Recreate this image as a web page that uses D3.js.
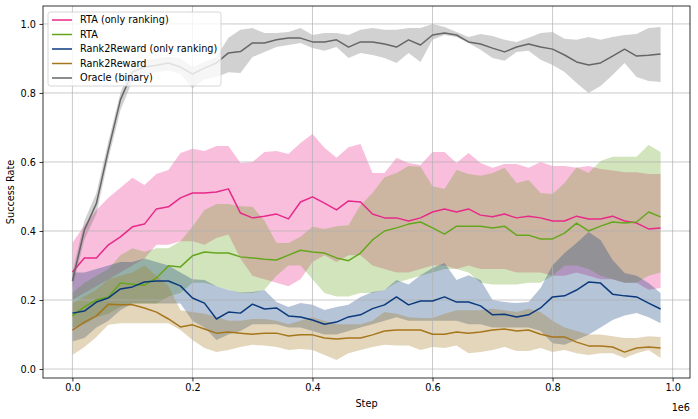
<!DOCTYPE html>
<meta charset="utf-8">
<style>
body { margin: 0; background: #fff; }
svg text { font-family: "DejaVu Sans", sans-serif; font-size: 9.7px; fill: #000; }
</style>
<body>
<script src="https://d3js.org/d3.v7.min.js"></script>
<script>

// x positions (environment steps)
var steps = [0,20000,40000,60000,80000,100000,120000,140000,160000,180000,
  200000,220000,240000,260000,280000,300000,320000,340000,360000,380000,
  400000,420000,440000,460000,480000,500000,520000,540000,560000,580000,
  600000,620000,640000,660000,680000,700000,720000,740000,760000,780000,
  800000,820000,840000,860000,880000,900000,920000,940000,960000,980000];

// RTA (only ranking)
var rtaRankMean = [0.281,0.322,0.322,0.360,0.383,0.412,0.420,0.464,0.470,0.496,
  0.510,0.510,0.513,0.522,0.452,0.438,0.443,0.449,0.435,0.484,
  0.499,0.481,0.461,0.487,0.484,0.449,0.438,0.438,0.429,0.438,
  0.455,0.464,0.455,0.464,0.446,0.441,0.449,0.438,0.443,0.438,
  0.429,0.429,0.443,0.435,0.435,0.443,0.429,0.423,0.406,0.409];
var rtaRankHi = [0.365,0.417,0.461,0.496,0.525,0.554,0.533,0.565,0.577,0.626,
  0.638,0.632,0.646,0.646,0.597,0.600,0.629,0.632,0.623,0.655,
  0.681,0.641,0.612,0.643,0.652,0.568,0.568,0.612,0.597,0.591,
  0.629,0.629,0.597,0.626,0.597,0.583,0.594,0.594,0.583,0.600,
  0.588,0.588,0.583,0.588,0.580,0.575,0.570,0.570,0.565,0.565];
var rtaRankLo = [0.20,0.22,0.24,0.26,0.28,0.30,0.32,0.36,0.36,0.37,
  0.37,0.36,0.38,0.39,0.32,0.27,0.26,0.25,0.24,0.26,
  0.31,0.33,0.31,0.33,0.33,0.30,0.29,0.28,0.28,0.29,
  0.30,0.30,0.29,0.30,0.29,0.29,0.29,0.28,0.28,0.28,
  0.27,0.27,0.28,0.27,0.26,0.26,0.25,0.25,0.23,0.235];

// RTA
var rtaMean = [0.154,0.180,0.200,0.209,0.249,0.246,0.243,0.264,0.299,0.296,
  0.328,0.339,0.336,0.336,0.325,0.322,0.318,0.316,0.330,0.344,
  0.339,0.336,0.322,0.314,0.336,0.374,0.400,0.409,0.420,0.426,
  0.409,0.391,0.414,0.414,0.414,0.409,0.414,0.388,0.388,0.377,
  0.377,0.394,0.423,0.400,0.414,0.426,0.423,0.426,0.455,0.441];
var rtaHi = [0.22,0.25,0.27,0.29,0.33,0.35,0.34,0.35,0.35,0.37,
  0.412,0.461,0.478,0.478,0.472,0.470,0.430,0.365,0.365,0.383,
  0.412,0.406,0.414,0.417,0.475,0.510,0.556,0.568,0.588,0.586,
  0.530,0.522,0.577,0.565,0.560,0.568,0.583,0.539,0.548,0.510,
  0.507,0.539,0.585,0.568,0.603,0.615,0.615,0.615,0.649,0.629];
var rtaLo = [0.12,0.13,0.15,0.16,0.18,0.19,0.19,0.19,0.21,0.22,
  0.25,0.25,0.24,0.23,0.22,0.22,0.23,0.27,0.30,0.30,
  0.26,0.22,0.21,0.21,0.22,0.22,0.23,0.25,0.26,0.27,
  0.28,0.29,0.29,0.28,0.25,0.245,0.245,0.245,0.25,0.25,
  0.27,0.30,0.30,0.29,0.27,0.26,0.25,0.25,0.27,0.28];

// Rank2Reward (only ranking)
var r2rRankMean = [0.162,0.168,0.194,0.206,0.232,0.238,0.252,0.255,0.255,0.241,
  0.206,0.191,0.145,0.165,0.162,0.188,0.174,0.177,0.154,0.151,
  0.142,0.130,0.136,0.151,0.157,0.175,0.186,0.209,0.186,0.197,
  0.197,0.209,0.194,0.194,0.183,0.157,0.159,0.151,0.157,0.177,
  0.209,0.212,0.229,0.252,0.249,0.217,0.212,0.209,0.191,0.174];
var r2rRankHi = [0.28,0.28,0.29,0.30,0.31,0.31,0.32,0.31,0.30,0.28,
  0.26,0.258,0.24,0.229,0.222,0.223,0.229,0.194,0.180,0.191,
  0.186,0.171,0.180,0.186,0.209,0.223,0.229,0.258,0.245,0.272,
  0.293,0.307,0.258,0.272,0.258,0.200,0.194,0.191,0.194,0.235,
  0.301,0.336,0.365,0.397,0.374,0.316,0.278,0.270,0.249,0.220];
var r2rRankLo = [0.08,0.09,0.12,0.14,0.17,0.19,0.19,0.19,0.19,0.19,
  0.14,0.12,0.084,0.10,0.11,0.13,0.13,0.13,0.12,0.12,
  0.11,0.10,0.10,0.11,0.12,0.13,0.14,0.15,0.14,0.14,
  0.14,0.14,0.14,0.13,0.13,0.12,0.12,0.12,0.12,0.11,
  0.075,0.07,0.085,0.099,0.12,0.142,0.155,0.162,0.15,0.133];

// Rank2Reward
var r2rMean = [0.113,0.136,0.154,0.188,0.186,0.186,0.177,0.165,0.145,0.122,
  0.128,0.116,0.104,0.107,0.104,0.101,0.104,0.104,0.096,0.099,
  0.099,0.090,0.087,0.090,0.090,0.099,0.110,0.113,0.113,0.113,
  0.101,0.101,0.107,0.104,0.107,0.113,0.116,0.110,0.113,0.101,
  0.093,0.093,0.078,0.067,0.067,0.064,0.049,0.061,0.064,0.061];
var r2rHi = [0.19,0.21,0.23,0.26,0.27,0.28,0.30,0.27,0.24,0.17,
  0.165,0.16,0.15,0.14,0.14,0.145,0.145,0.14,0.13,0.14,
  0.15,0.14,0.13,0.13,0.13,0.14,0.165,0.16,0.15,0.148,
  0.148,0.16,0.17,0.17,0.17,0.175,0.17,0.165,0.175,0.165,
  0.14,0.12,0.11,0.10,0.10,0.095,0.09,0.09,0.095,0.093];
var r2rLo = [0.041,0.064,0.093,0.128,0.133,0.133,0.133,0.133,0.133,0.113,
  0.084,0.061,0.049,0.055,0.064,0.070,0.068,0.064,0.055,0.058,
  0.055,0.041,0.026,0.046,0.055,0.064,0.070,0.068,0.068,0.055,
  0.064,0.061,0.068,0.046,0.049,0.055,0.064,0.052,0.052,0.061,
  0.049,0.055,0.046,0.041,0.046,0.046,0.032,0.046,0.055,0.032];

// Oracle (binary)
var oracleMean = [0.255,0.403,0.480,0.635,0.780,0.861,0.875,0.880,0.887,0.875,
  0.855,0.872,0.887,0.916,0.920,0.945,0.945,0.954,0.959,0.959,
  0.948,0.948,0.954,0.933,0.948,0.948,0.942,0.933,0.954,0.939,
  0.968,0.974,0.968,0.948,0.942,0.930,0.919,0.933,0.942,0.933,
  0.927,0.910,0.890,0.881,0.887,0.907,0.927,0.907,0.909,0.913];
var oracleHi = [0.28,0.43,0.51,0.66,0.80,0.885,0.896,0.90,0.905,0.90,
  0.875,0.89,0.905,0.96,0.983,0.988,0.974,0.974,0.977,0.988,
  0.968,0.974,0.974,0.968,0.983,0.988,0.983,0.983,0.988,0.988,
  1.0,0.991,0.977,0.962,0.971,0.965,0.954,0.948,0.960,0.974,
  0.977,0.957,0.954,0.962,0.954,0.962,0.968,0.971,0.988,0.991];
var oracleLo = [0.235,0.375,0.45,0.61,0.75,0.835,0.85,0.86,0.865,0.855,
  0.814,0.84,0.846,0.86,0.858,0.904,0.919,0.933,0.939,0.945,
  0.930,0.922,0.933,0.901,0.916,0.910,0.901,0.887,0.916,0.890,
  0.954,0.968,0.962,0.945,0.925,0.901,0.893,0.919,0.922,0.896,
  0.881,0.861,0.829,0.800,0.820,0.852,0.887,0.846,0.835,0.832];

var seriesNames = ["RTA (only ranking)", "RTA", "Rank2Reward (only ranking)", "Rank2Reward", "Oracle (binary)"];
var seriesColors = ["#e7298a", "#66a61e", "#0b3a7c", "#a6761d", "#666666"];
var xTicks = [0, 200000, 400000, 600000, 800000, 1000000];
var yTicks = [0.0, 0.2, 0.4, 0.6, 0.8, 1.0];

var series = [
  {mean: rtaRankMean, lo: rtaRankLo, hi: rtaRankHi},
  {mean: rtaMean, lo: rtaLo, hi: rtaHi},
  {mean: r2rRankMean, lo: r2rRankLo, hi: r2rRankHi},
  {mean: r2rMean, lo: r2rLo, hi: r2rHi},
  {mean: oracleMean, lo: oracleLo, hi: oracleHi}
].map(function(s, k) {
  return {
    name: seriesNames[k],
    color: seriesColors[k],
    pts: steps.map(function(st, i) { return {x: st, m: s.mean[i], lo: s.lo[i], hi: s.hi[i]}; })
  };
});

//SVG setup
var W = 698, H = 419;
var margin = {top: 6, right: 8, bottom: 41, left: 43},
    width = W - margin.left - margin.right,
    height = H - margin.top - margin.bottom;

var x = d3.scaleLinear().domain([-49000, 1029000]).range([0, width]);
var y = d3.scaleLinear().domain([-0.026, 1.052]).range([height, 0]);

var svg = d3.select("body").append("svg")
    .attr("width", W)
    .attr("height", H)
  .append("g")
    .attr("transform", `translate(${margin.left},${margin.top})`);

// bands first
var area = d3.area()
  .x(d => x(d.x))
  .y0(d => y(d.lo))
  .y1(d => y(d.hi));

svg.selectAll(".band")
  .data(series)
  .enter().append("path")
    .attr("class", "band")
    .attr("d", d => area(d.pts))
    .attr("fill", d => d.color)
    .attr("fill-opacity", 0.3);

// grid (drawn above the bands, below the lines)
svg.append("g").selectAll("line")
  .data(xTicks).enter().append("line")
    .attr("x1", d => x(d)).attr("x2", d => x(d))
    .attr("y1", 0).attr("y2", height)
    .attr("stroke", "#b0b0b0").attr("stroke-opacity", 0.75).attr("stroke-width", 0.9);
svg.append("g").selectAll("line")
  .data(yTicks).enter().append("line")
    .attr("x1", 0).attr("x2", width)
    .attr("y1", d => y(d)).attr("y2", d => y(d))
    .attr("stroke", "#b0b0b0").attr("stroke-opacity", 0.75).attr("stroke-width", 0.9);

// mean lines
var line = d3.line()
  .x(d => x(d.x))
  .y(d => y(d.m));

svg.selectAll(".mean")
  .data(series)
  .enter().append("path")
    .attr("class", "mean")
    .attr("d", d => line(d.pts))
    .attr("fill", "none")
    .attr("stroke", d => d.color)
    .attr("stroke-width", 1.5)
    .attr("stroke-linejoin", "round");

// axes
var xAxis = svg.append("g")
  .attr("transform", `translate(0,${height})`)
  .call(d3.axisBottom(x).tickValues(xTicks).tickSize(3.5).tickPadding(3)
    .tickFormat(d => (d / 1e6).toFixed(1)));
var yAxis = svg.append("g")
  .call(d3.axisLeft(y).tickValues(yTicks).tickSize(3.5).tickPadding(3.5)
    .tickFormat(d3.format(".1f")));

[xAxis, yAxis].forEach(function(a) {
  a.select(".domain").remove();
  a.selectAll("line").attr("stroke", "#000").attr("stroke-width", 0.8);
  a.selectAll("text").style("font-family", "DejaVu Sans").style("font-size", "9.7px");
});

// frame
svg.append("rect")
  .attr("width", width).attr("height", height)
  .attr("fill", "none").attr("stroke", "#000").attr("stroke-width", 0.8);

// labels
svg.append("text")
  .attr("x", width / 2).attr("y", height + 29)
  .attr("text-anchor", "middle")
  .text("Step");
svg.append("text")
  .attr("x", width).attr("y", height + 33)
  .attr("text-anchor", "end")
  .text("1e6");
svg.append("text")
  .attr("transform", `translate(${-29},${height / 2}) rotate(-90)`)
  .attr("text-anchor", "middle")
  .text("Success Rate");

// legend
var legend = svg.append("g").attr("transform", "translate(5,6)");
legend.append("rect")
  .attr("width", 173).attr("height", 74).attr("rx", 2.5)
  .attr("fill", "#fff").attr("fill-opacity", 0.8)
  .attr("stroke", "#cccccc").attr("stroke-width", 0.8);

var entry = legend.selectAll(".entry")
  .data(series)
  .enter().append("g")
    .attr("class", "entry")
    .attr("transform", (d, i) => `translate(0,${8 + i * 14.5})`);
entry.append("line")
  .attr("x1", 4).attr("x2", 24)
  .attr("stroke", d => d.color).attr("stroke-width", 1.5);
entry.append("text")
  .attr("x", 32).attr("dy", "0.35em")
  .text(d => d.name);

</script>
</body>
